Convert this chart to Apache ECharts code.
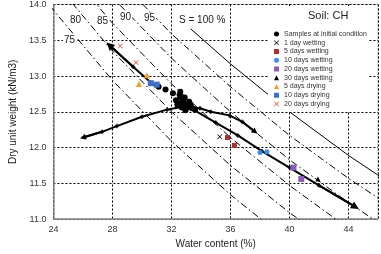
<!DOCTYPE html>
<html>
<head>
<meta charset="utf-8">
<script src="https://cdn.jsdelivr.net/npm/echarts@6/dist/echarts.min.js"></script>
<style>
html, body { margin: 0; padding: 0; background: #fff; }
#chart { width: 381px; height: 254px; }
</style>
</head>
<body>
<div id="chart"></div>
<script>
// saturation lines: [water content %, dry unit weight kN/m3]
var sat75 = [[22, 14.47], [24, 13.92], [28, 12.94], [32, 12.09], [36, 11.34], [40, 10.68]];
var sat80 = [[24, 14.33], [28, 13.35], [32, 12.5], [36, 11.75], [40, 11.09], [44, 10.5]];
var sat85 = [[24, 14.71], [28, 13.74], [32, 12.89], [36, 12.14], [40, 11.47], [44, 10.87]];
var sat90 = [[24, 15.06], [28, 14.1], [32, 13.25], [36, 12.5], [40, 11.83], [44, 11.23], [48, 10.68]];
var sat95 = [[28, 14.44], [32, 13.59], [36, 12.85], [40, 12.17], [44, 11.57], [48, 11.02]];
var sat100 = [[33.3, 13.66], [36, 13.17], [40, 12.5], [44, 11.89], [48, 11.34]];

// paths
var dryingPath = [[30.93, 12.85], [29.4, 13.13], [27.8, 13.43]];
var archLeft = [[33.0, 12.58], [31.7, 12.53], [30.0, 12.43], [28.3, 12.3], [27.3, 12.22], [26.0, 12.14]];
var archRight = [[33.0, 12.58], [33.93, 12.55], [34.67, 12.5], [35.93, 12.45], [36.8, 12.36], [37.67, 12.22]];
var wettingPath = [[33.3, 12.55], [35.0, 12.35], [36.5, 12.17], [38.13, 11.95], [40.0, 11.72], [42.0, 11.47], [44.47, 11.17]];

// samples
var initialSamples = [[31.13, 12.85], [31.6, 12.81], [32.1, 12.76], [32.6, 12.78], [32.8, 12.66], [32.5, 12.62],
  [33.0, 12.6], [33.2, 12.64], [32.7, 12.56], [33.4, 12.55], [32.9, 12.7], [33.6, 12.53], [32.3, 12.66], [32.95, 12.52],
  [32.6, 12.7], [32.75, 12.62], [33.1, 12.56], [32.4, 12.6], [33.3, 12.6], [32.85, 12.58], [32.55, 12.74]];
var wet1 = [[35.27, 12.15]];
var wet5 = [[35.8, 12.14], [36.27, 12.03]];
var wet10 = [[38.0, 11.93], [38.47, 11.94]];
var wet20 = [[40.27, 11.72], [40.8, 11.56]];
var wet30 = [[41.93, 11.56]];
var dry5 = [[30.33, 13.01], [29.8, 12.89]];
var dry10 = [[30.6, 12.9], [31.0, 12.88]];
var dry20 = [[28.53, 13.42], [29.6, 13.19]];

var seriesNames = ["Samples at initial condition", "1 day wetting", "5 days wetting", "10 days wetting",
  "20 days wetting", "30 days wetting", "5 days drying", "10 days drying", "20 days drying"];

var crossPath = "path://M1,0L5,4L9,0L10,1L6,5L10,9L9,10L5,6L1,10L0,9L4,5L0,1Z";
var font = "Liberation Sans, Arial";

function satLine(data, solid) {
  return {
    type: "line",
    data: data,
    symbol: "none",
    silent: true,
    z: 1,
    lineStyle: { color: "#000", width: 1, type: solid ? "solid" : [7, 3, 1.5, 3] }
  };
}

function pts(name, data, symbol, size, color) {
  return {
    name: name,
    type: "scatter",
    data: data,
    symbol: symbol,
    symbolSize: size,
    z: 5,
    itemStyle: { color: color, opacity: 1 }
  };
}

var paths = [dryingPath, archLeft, archRight, wettingPath];
var headSizes = [8, 6, 6, 8];
var pathMarkers = [].concat(archLeft.slice(1, -1), archRight.slice(1, -1), wettingPath.slice(1, -1), dryingPath.slice(1, -1));

var chart = echarts.init(document.getElementById("chart"));
chart.setOption({
  animation: false,
  grid: { left: 48, right: 3, top: 4, bottom: 33, show: true, borderColor: "#888", borderWidth: 1, borderType: "dotted" },
  title: {
    text: "Soil: CH",
    left: 308,
    top: 10,
    padding: 0,
    z: 10,
    textStyle: { fontSize: 11, fontWeight: "normal", color: "#222", fontFamily: font }
  },
  legend: {
    orient: "vertical",
    left: 274,
    top: 30,
    padding: 0,
    itemWidth: 5,
    itemHeight: 5,
    itemGap: 0.75,
    selectedMode: false,
    z: 10,
    textStyle: { fontSize: 7, lineHeight: 8, color: "#333", fontFamily: font },
    data: seriesNames
  },
  xAxis: {
    type: "value",
    min: 24,
    max: 46,
    interval: 4,
    name: "Water content (%)",
    nameLocation: "middle",
    nameGap: 19,
    nameTextStyle: { fontSize: 10, color: "#222", fontFamily: font },
    axisLine: { lineStyle: { color: "#888", width: 1.5, type: [2, 1] } },
    axisTick: { show: false },
    axisLabel: { fontSize: 9, color: "#333", margin: 6, showMaxLabel: false, fontFamily: font },
    splitLine: { lineStyle: { color: "#000", width: 1, type: [2, 2] } }
  },
  yAxis: {
    type: "value",
    min: 11,
    max: 14,
    interval: 0.5,
    name: "Dry unit weight (kN/m3)",
    nameLocation: "middle",
    nameGap: 34,
    nameTextStyle: { fontSize: 10, color: "#222", fontFamily: font },
    axisLine: { lineStyle: { color: "#888", width: 1.5, type: [2, 1] } },
    axisTick: { show: false },
    axisLabel: {
      fontSize: 9, color: "#333", margin: 7, fontFamily: font,
      formatter: function (v) { return v.toFixed(1); }
    },
    splitLine: { lineStyle: { color: "#000", width: 1, type: [2, 2] } }
  },
  graphic: [
    { type: "rect", left: 268, top: 6, shape: { width: 100, height: 106 }, style: { fill: "#fff" }, z: 3 },
    { type: "text", left: 63, top: 35, z: 4, style: { text: "75", fontSize: 10, fill: "#222", backgroundColor: "#fff", padding: [0, 1] } },
    { type: "text", left: 69, top: 15, z: 4, style: { text: "80", fontSize: 10, fill: "#222", backgroundColor: "#fff", padding: [0, 1] } },
    { type: "text", left: 96, top: 16, z: 4, style: { text: "85", fontSize: 10, fill: "#222", backgroundColor: "#fff", padding: [0, 1] } },
    { type: "text", left: 119, top: 12, z: 4, style: { text: "90", fontSize: 10, fill: "#222", backgroundColor: "#fff", padding: [0, 1] } },
    { type: "text", left: 143, top: 13, z: 4, style: { text: "95", fontSize: 10, fill: "#222", backgroundColor: "#fff", padding: [0, 1] } },
    { type: "text", left: 177, top: 13, z: 4, style: { text: "S = 100 %", fontSize: 10, fill: "#222", backgroundColor: "#fff", padding: [2, 2] } }
  ],
  series: [
    satLine(sat75), satLine(sat80), satLine(sat85), satLine(sat90), satLine(sat95), satLine(sat100, true),
    {
      type: "lines",
      coordinateSystem: "cartesian2d",
      polyline: true,
      silent: true,
      z: 4,
      lineStyle: { color: "#000", width: 2, opacity: 1 },
      data: paths.map(function (p) { return { coords: p }; })
    },
    {
      type: "lines",
      coordinateSystem: "cartesian2d",
      silent: true,
      z: 4,
      symbol: ["none", "triangle"],
      lineStyle: { color: "#000", width: 2, opacity: 1 },
      data: paths.map(function (p, i) {
        return { coords: p.slice(-2), symbolSize: [0, headSizes[i]] };
      })
    },
    { type: "scatter", data: pathMarkers, symbol: "diamond", symbolSize: 5, silent: true, z: 4, itemStyle: { color: "#000" } },
    pts(seriesNames[0], initialSamples, "circle", 6, "#000"),
    pts(seriesNames[1], wet1, crossPath, 5, "#000"),
    pts(seriesNames[2], wet5, "rect", 5, "#a83232"),
    pts(seriesNames[3], wet10, "circle", 5, "#3d8fe0"),
    pts(seriesNames[4], wet20, "rect", 6, "#8a5cb8"),
    pts(seriesNames[5], wet30, "triangle", 5, "#000"),
    pts(seriesNames[6], dry5, "triangle", 6, "#f59a2c"),
    pts(seriesNames[7], dry10, "rect", 6, "#3f72c4"),
    pts(seriesNames[8], dry20, crossPath, 5, "#e04b3a")
  ]
});
</script>
</body>
</html>
